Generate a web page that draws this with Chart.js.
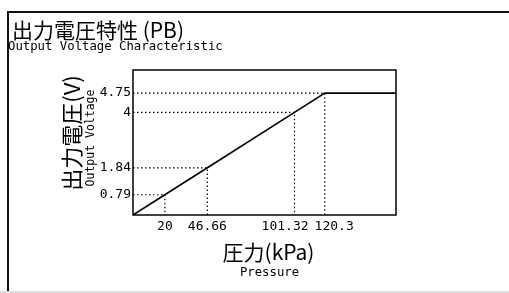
<!DOCTYPE html>
<html>
<head>
<meta charset="utf-8">
<script src="https://cdn.jsdelivr.net/npm/chart.js@4.4.1/dist/chart.umd.min.js"></script>
<style>
  body { margin: 0; background: #fff; }
  #wrap { position: relative; width: 509px; height: 293px; }
  #frame { position: absolute; left: 7px; top: 11px; right: 0; bottom: 2px; border-left: 2px solid #111; border-top: 2px solid #111; }
  #foot { position: absolute; left: 0; right: 0; bottom: 0; height: 2px; background: #ddd; }
  canvas { position: absolute; left: 0; top: 0; }
</style>
</head>
<body>
<div id="wrap">
  <div id="frame"></div>
  <div id="foot"></div>
  <canvas id="chart" width="509" height="293"></canvas>
</div>
<script>
const pressure = [0, 20, 46.66, 101.32, 120.3, 165];
const voltage = [0, 0.79, 1.84, 4, 4.75, 4.75];
const xTicks = [20, 46.66, 101.32, 120.3];
const yTicks = [0.79, 1.84, 4, 4.75];
const xMax = 165;
const yMax = 5.65;

const MONO = '"DejaVu Sans Mono", monospace';
const CJK = '"Noto Sans CJK JP", sans-serif';

const curve = pressure.map((p, i) => ({ x: p, y: voltage[i] }));

// dotted guides from each marked point back to both axes
const guides = xTicks.map((p, i) => ({
  data: [{ x: 0, y: yTicks[i] }, { x: p, y: yTicks[i] }, { x: p, y: 0 }],
  showLine: true,
  borderColor: "#000",
  borderWidth: 1.2,
  borderDash: [1.5, 2.5],
  pointRadius: 0,
  order: 2
}));

function rotated(ctx, text, cx, cy) {
  ctx.save();
  ctx.translate(cx, cy);
  ctx.rotate(-Math.PI / 2);
  ctx.fillText(text, 0, 0);
  ctx.restore();
}

const labels = {
  id: "labels",
  afterDraw(chart) {
    const { ctx, chartArea: a, scales: { x, y } } = chart;
    ctx.save();
    ctx.strokeStyle = "#000";
    ctx.lineWidth = 1.5;
    ctx.strokeRect(a.left, a.top, a.right - a.left, a.bottom - a.top);
    ctx.fillStyle = "#000";

    // x tick labels, pushed apart where they would overlap
    ctx.font = "13px " + MONO;
    ctx.textAlign = "center";
    ctx.textBaseline = "top";
    const xs = xTicks.map(v => ({
      text: String(v),
      pos: x.getPixelForValue(v),
      w: ctx.measureText(String(v)).width
    }));
    for (let i = 1; i < xs.length; i++) {
      const over = xs[i - 1].pos + xs[i - 1].w / 2 + 6 - (xs[i].pos - xs[i].w / 2);
      if (over > 0) {
        xs[i - 1].pos -= over / 2;
        xs[i].pos += over / 2;
      }
    }
    xs.forEach(t => ctx.fillText(t.text, t.pos, a.bottom + 5));

    // y tick labels
    ctx.textAlign = "right";
    ctx.textBaseline = "middle";
    yTicks.forEach(v => ctx.fillText(String(v), a.left - 2, y.getPixelForValue(v)));

    // chart title
    ctx.textAlign = "left";
    ctx.font = "21px " + CJK;
    ctx.fillText("出力電圧特性 (PB)", 12, 30);
    ctx.font = "12.3px " + MONO;
    ctx.fillText("Output Voltage Characteristic", 8, 47);

    // axis titles
    ctx.textAlign = "center";
    ctx.font = "22px " + CJK;
    rotated(ctx, "出力電圧(V)", a.left - 61, 133);
    ctx.font = "11.5px " + MONO;
    rotated(ctx, "Output Voltage", a.left - 42, 138);
    const mid = (a.left + a.right) / 2;
    ctx.font = "21px " + CJK;
    ctx.fillText("圧力(kPa)", mid + 4, a.bottom + 37);
    ctx.font = "12.3px " + MONO;
    ctx.fillText("Pressure", mid + 5, a.bottom + 58);
    ctx.restore();
  }
};

new Chart(document.getElementById("chart"), {
  type: "scatter",
  data: {
    datasets: [{
      data: curve,
      showLine: true,
      borderColor: "#000",
      borderWidth: 1.6,
      pointRadius: 0,
      order: 1
    }, ...guides]
  },
  options: {
    responsive: false,
    animation: false,
    devicePixelRatio: 1,
    layout: { padding: { left: 133, top: 70, right: 113, bottom: 78 } },
    plugins: { legend: { display: false }, tooltip: { enabled: false } },
    scales: {
      x: {
        type: "linear", min: 0, max: xMax,
        ticks: { display: false },
        grid: { display: false, drawTicks: false },
        border: { display: false }
      },
      y: {
        type: "linear", min: 0, max: yMax,
        ticks: { display: false },
        grid: { display: false, drawTicks: false },
        border: { display: false }
      }
    }
  },
  plugins: [labels]
});
</script>
</body>
</html>
